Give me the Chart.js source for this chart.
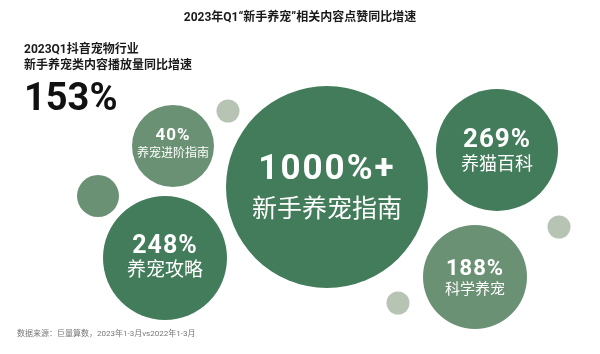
<!DOCTYPE html>
<html>
<head>
<meta charset="utf-8">
<script src="https://cdn.jsdelivr.net/npm/chart.js@4"></script>
<style>
    html, body { margin: 0; padding: 0; background: #fff; }
    #wrap { width: 600px; height: 354px; position: relative; }
</style>
</head>
<body>
<div id="wrap"><canvas id="chart-pet-bubble" width="600" height="354"></canvas></div>
<script>
// values
var categories = ['新手养宠指南', '养猫百科', '养宠攻略', '科学养宠', '养宠进阶指南'];
var growthLabels = ['1000%+', '269%', '248%', '188%', '40%'];
var growthValues = [1000, 269, 248, 188, 40];

// bubble layout (chart coordinates, radius in px)
var bubbleX = [327, 497, 165, 475, 173];
var bubbleY = [187, 150, 258, 277, 146];
var bubbleR = [101, 61, 62, 52, 41];

// decorative dots
var dotX = [98, 228, 398, 559];
var dotY = [196, 111, 303, 227];
var dotR = [21, 11.5, 11.5, 11.5];

var titleText = '2023年Q1“新手养宠”相关内容点赞同比增速';
var sideLines = ['2023Q1抖音宠物行业', '新手养宠类内容播放量同比增速'];
var sideValue = '153%';
var sourceText = '数据来源：巨量算数，2023年1-3月vs2022年1-3月';

var DARK = '#437c5b';
var MID = '#6b9174';
var LIGHT = '#b7c4b4';
var CJK = "'Noto Sans CJK SC', sans-serif";
var MIXED = "Roboto, 'Noto Sans CJK SC', sans-serif";
var NUM = "Roboto, 'Noto Sans', sans-serif";

var bubbleColors = [DARK, DARK, DARK, MID, MID];
var dotColors = [MID, LIGHT, LIGHT, LIGHT];
// value font, category font, value offset, category offset
var labelStyle = [
    [35, 25, -20, 20],
    [26, 18, -12, 13],
    [25, 19, -14, 11],
    [22, 15, -10, 11],
    [17, 12, -12, 6]
];

var textPlugin = {
    id: 'textPlugin',
    afterDatasetsDraw: function (chart) {
        var ctx = chart.ctx;
        ctx.save();

        ctx.textAlign = 'center';
        ctx.textBaseline = 'middle';
        ctx.fillStyle = '#1a1a1a';
        ctx.font = "bold 12px " + MIXED;
        ctx.fillText(titleText, 300, 18);

        ctx.textAlign = 'left';
        ctx.font = "bold 12px " + MIXED;
        ctx.fillText(sideLines[0], 24, 50);
        ctx.fillText(sideLines[1], 24, 66);

        ctx.textBaseline = 'alphabetic';
        ctx.fillStyle = '#111';
        ctx.font = "bold 38px " + NUM;
        ctx.fillText(sideValue, 24, 110);

        ctx.textBaseline = 'middle';
        ctx.fillStyle = '#777';
        ctx.font = "8px " + MIXED;
        ctx.fillText(sourceText, 17, 334);

        var meta = chart.getDatasetMeta(0);
        ctx.textAlign = 'center';
        ctx.fillStyle = '#fff';
        meta.data.forEach(function (el, i) {
            var st = labelStyle[i];
            ctx.textBaseline = 'alphabetic';
            ctx.font = 'bold ' + st[0] + 'px ' + NUM;
            ctx.letterSpacing = (st[0] > 30 ? 2 : 1) + 'px';
            ctx.fillText(growthLabels[i], el.x, el.y + st[2] + st[0] * 0.355);
            ctx.letterSpacing = '0px';
            ctx.textBaseline = 'middle';
            ctx.font = st[1] + 'px ' + CJK;
            ctx.fillText(categories[i], el.x, el.y + st[3]);
        });
        ctx.restore();
    }
};

var canvasPet = document.getElementById('chart-pet-bubble');

var chartPet = new Chart(canvasPet.getContext('2d'), {
    type: 'bubble',
    data: {
        datasets: [{
            label: '点赞同比增速',
            data: growthValues.map(function (v, i) {
                return { x: bubbleX[i], y: bubbleY[i], r: bubbleR[i], v: v };
            }),
            backgroundColor: bubbleColors,
            borderWidth: 0,
            hoverBorderWidth: 0,
            clip: false,
            order: 1
        }, {
            label: 'dots',
            data: dotX.map(function (x, i) {
                return { x: x, y: dotY[i], r: dotR[i] };
            }),
            backgroundColor: dotColors,
            borderWidth: 0,
            clip: false,
            order: 2
        }]
    },
    options: {
        responsive: false,
        animation: false,
        layout: { padding: 0, autoPadding: false },
        plugins: {
            legend: { display: false },
            title: { display: false },
            tooltip: { enabled: false }
        },
        scales: {
            x: { display: false, min: 0, max: 600 },
            y: { display: false, min: 0, max: 354, reverse: true }
        }
    },
    plugins: [textPlugin]
});
</script>
</body>
</html>
